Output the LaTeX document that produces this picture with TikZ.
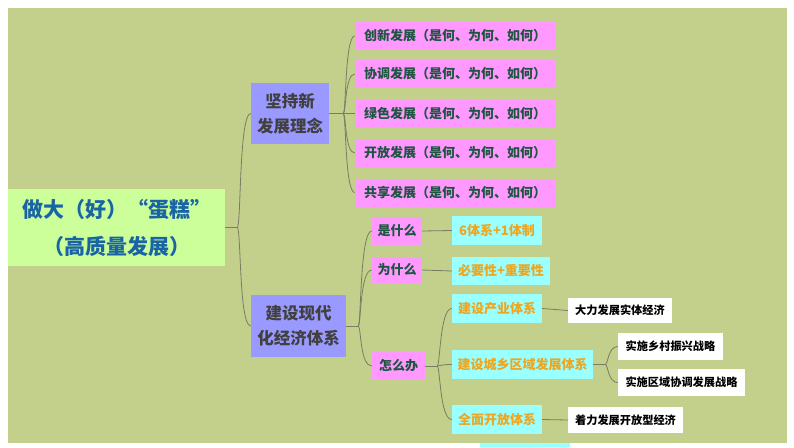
\documentclass[tikz,border=0pt]{standalone}
\usepackage{fontspec}
\setmainfont{Noto Sans CJK SC}
\definecolor{bggreen}{RGB}{195,208,139}
\definecolor{rootfill}{RGB}{204,255,153}
\definecolor{roottext}{RGB}{25,100,165}
\definecolor{purplefill}{RGB}{153,153,255}
\definecolor{purpletext}{RGB}{64,64,64}
\definecolor{pinkfill}{RGB}{255,153,255}
\definecolor{greentext}{RGB}{30,85,65}
\definecolor{cyanfill}{RGB}{153,255,255}
\definecolor{orangetext}{RGB}{240,165,30}
\definecolor{linecol}{RGB}{120,125,100}
\begin{document}
\begin{tikzpicture}[x=1pt,y=-1pt,
  box/.style={inner sep=0pt, align=center, font=\bfseries},
  rootbox/.style={box, fill=rootfill, text=roottext, minimum width=217pt, minimum height=77pt, font=\bfseries\fontsize{21}{37}\selectfont},
  purplebox/.style={box, fill=purplefill, text=purpletext, minimum height=62pt, font=\bfseries\fontsize{16.5}{25}\selectfont},
  pinkbox/.style={box, fill=pinkfill, text=greentext, minimum height=28pt, font=\bfseries\fontsize{13}{15}\selectfont},
  cyanbox/.style={box, fill=cyanfill, text=orangetext, minimum height=29pt, font=\bfseries\fontsize{13}{15}\selectfont},
  whitebox/.style={box, fill=white, text=black, minimum height=26pt, font=\bfseries\fontsize{11.2}{13}\selectfont},
  conn/.style={draw=linecol, line width=0.8pt}
]
\useasboundingbox (0,0) rectangle (794,447);
\fill[white] (0,0) rectangle (794,447);
\fill[bggreen] (8,8) rectangle (787,443);
\fill[cyanfill] (480,443) rectangle (570,447);

% nodes
\node[rootbox] (root) at (116.5,227.5) {做大（好）“蛋糕”\\（高质量发展）};
\node[purplebox, minimum width=78pt, minimum height=61pt] (jc) at (290,113.5) {坚持新\\发展理念};
\node[purplebox, minimum width=95pt] (js) at (298.5,326) {建设现代\\化经济体系};

\node[pinkbox, minimum width=200pt] (p1) at (455,36) {创新发展（是何、为何、如何）};
\node[pinkbox, minimum width=200pt] (p2) at (455,74) {协调发展（是何、为何、如何）};
\node[pinkbox, minimum width=200pt] (p3) at (455,113.5) {绿色发展（是何、为何、如何）};
\node[pinkbox, minimum width=200pt] (p4) at (455,153) {开放发展（是何、为何、如何）};
\node[pinkbox, minimum width=200pt] (p5) at (455,192.5) {共享发展（是何、为何、如何）};

\node[pinkbox, minimum width=50pt] (sm) at (397,231) {是什么};
\node[pinkbox, minimum width=50pt, minimum height=26pt] (wsm) at (397,270) {为什么};
\node[pinkbox, minimum width=53pt] (zmb) at (398.5,366) {怎么办};

\node[cyanbox, minimum width=90pt] (tx) at (497,230.5) {6体系+1体制};
\node[cyanbox, minimum width=98pt, minimum height=28pt] (by) at (501,271) {必要性+重要性};
\node[cyanbox, minimum width=90pt] (cy) at (497,308.5) {建设产业体系};
\node[cyanbox, minimum width=141pt] (cx) at (522.5,364.5) {建设城乡区域发展体系};
\node[cyanbox, minimum width=90pt] (qm) at (497,419.5) {全面开放体系};

\node[whitebox, minimum width=104pt, minimum height=25pt] (dl) at (620,310.5) {大力发展实体经济};
\node[whitebox, minimum width=105pt, minimum height=27pt] (xc) at (670.5,346.5) {实施乡村振兴战略};
\node[whitebox, minimum width=127pt, minimum height=27pt] (qy) at (681.5,382.5) {实施区域协调发展战略};
\node[whitebox, minimum width=115pt] (zl) at (625.5,420) {着力发展开放型经济};

% connectors
\draw[conn] (root.east) -- ++(12,0) coordinate (r1);
\foreach \c in {jc,js} \draw[conn] (r1) .. controls +(4,0) and +(-12,0) .. (\c.west);

\draw[conn] (jc.east) -- ++(14,0) coordinate (j1);
\foreach \c in {p1,p2,p3,p4,p5} \draw[conn] (j1) .. controls +(3,0) and +(-10,0) .. (\c.west);

\draw[conn] (js.east) -- ++(12,0) coordinate (s1);
\foreach \c in {sm,wsm,zmb} \draw[conn] (s1) .. controls +(3,0) and +(-12,0) .. (\c.west);

\draw[conn] (zmb.east) -- ++(12,0) coordinate (z1);
\foreach \c in {cy,cx,qm} \draw[conn] (z1) .. controls +(3,0) and +(-12,0) .. (\c.west);

\draw[conn] (cx.east) -- ++(12,0) coordinate (c1);
\foreach \c in {xc,qy} \draw[conn] (c1) .. controls +(3,0) and +(-10,0) .. (\c.west);

\draw[conn] (sm.east) -- (tx.west);
\draw[conn] (wsm.east) -- (by.west);
\draw[conn] (cy.east) -- (dl.west);
\draw[conn] (qm.east) -- (zl.west);
\end{tikzpicture}
\end{document}
